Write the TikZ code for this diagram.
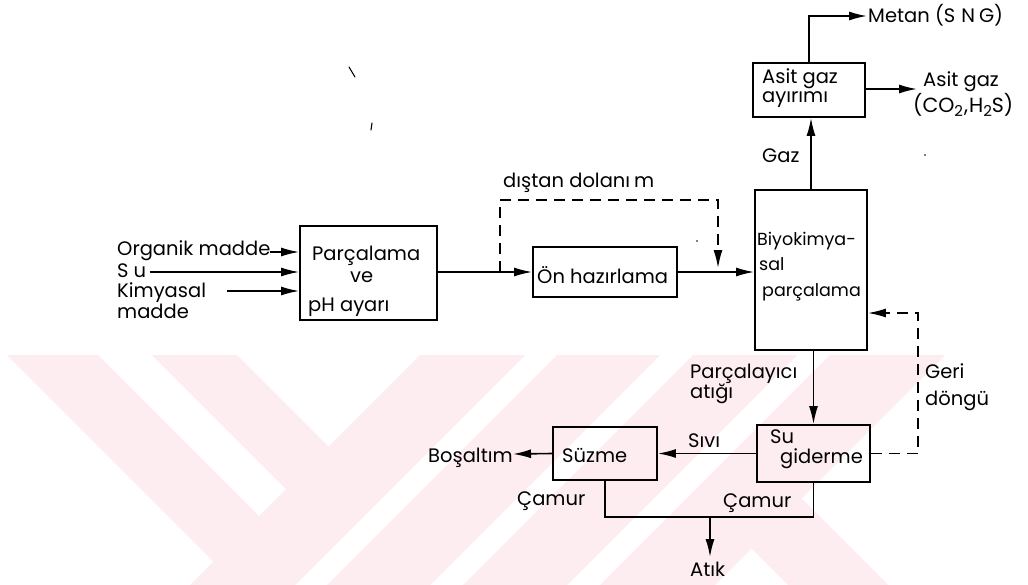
\documentclass[tikz,border=0pt]{standalone}
\usepackage{fontspec}
\setmainfont{Poppins}
\usetikzlibrary{arrows.meta}
\definecolor{wm}{RGB}{253,236,240}
\tikzset{
  box/.style={draw, line width=1.8pt, inner sep=0pt},
  arr/.style={line width=1.6pt, -{Latex[length=18pt,width=9pt]}},
  ln/.style={line width=1.6pt},
  dsh/.style={line width=1.6pt, dash pattern=on 11pt off 7pt},
  lbl/.style={anchor=base west, inner sep=0pt, font=\fontsize{19.5}{21}\selectfont},
  lbls/.style={anchor=base west, inner sep=0pt, font=\fontsize{17.5}{19}\selectfont},
  speck/.style={line width=1.1pt, line cap=round},
}
\begin{document}
\begin{tikzpicture}[x=1pt,y=-1pt]
\useasboundingbox (0,0) rectangle (1028,584);
\fill[white] (0,0) rectangle (1028,584);
% watermark
\begin{scope}
  \clip (0,355) rectangle (1028,584);
  \fill[wm] (-24,324) -- (21.5,278.5) -- (259,516) -- (213.5,561.5) -- cycle;
  \fill[wm] (48.5,251.5) -- (91,209) -- (328.5,446.5) -- (286,489) -- cycle;
  \fill[wm] (425,350) -- (530,350) -- (290,590) -- (185,590) -- cycle;
  \fill[wm] (562,350) -- (665,350) -- (425,590) -- (322,590) -- cycle;
  \fill[wm] (698,350) -- (802,350) -- (562,590) -- (458,590) -- cycle;
  \fill[wm] (835,350) -- (950,350) -- (710,590) -- (595,590) -- cycle;
  \fill[wm] (751.5,548.5) -- (801.5,498.5) -- (901.5,598.5) -- (851.5,648.5) -- cycle;
\end{scope}
% specks
\draw[speck] (349,67) -- (355,77);
\draw[speck] (372,123) -- (371,130);
\fill (697,241) circle (0.9pt);
\fill (925,155) circle (0.9pt);

% boxes
\node[box, minimum width=137pt, minimum height=94pt] (parc) at (368.5,273) {};
\node[box, minimum width=144pt, minimum height=50pt] (onh) at (605,272) {};
\node[box, minimum width=112pt, minimum height=160pt] (biyo) at (811,270) {};
\node[box, minimum width=112pt, minimum height=54pt] (asit) at (809,90) {};
\node[box, minimum width=113pt, minimum height=57pt] (sug) at (813.5,453.5) {};
\node[box, minimum width=104pt, minimum height=53pt] (suz) at (605,453.5) {};

% box texts
\node[lbl] (tparc1) at (312,260) {Parçalama};
\node[lbl] (tparc2) at (350,282) {ve};
\node[lbl] (tparc3) at (308,311) {pH ayarı};
\node[lbl] (tonh) at (537,283) {Ön hazırlama};
\node[lbls] (tbiyo1) at (757,245) {Biyokimya-};
\node[lbls] (tbiyo2) at (759,270) {sal};
\node[lbls] (tbiyo3) at (762,296) {parçalama};
\node[lbl] (tasit1) at (762,83) {Asit gaz};
\node[lbl] (tasit2) at (762,102) {ayırımı};
\node[lbl] (tsug1) at (770,443) {Su};
\node[lbl] (tsug2) at (780,463) {giderme};
\node[lbl] (tsuz) at (562,462) {Süzme};

% free labels
\node[lbl] (organik) at (117,255) {Organik madde};
\node[lbl] (su) at (117,277) {S\kern5pt u};
\node[lbl] (kim1) at (117,297) {Kimyasal};
\node[lbl] (kim2) at (117,318) {madde};
\node[lbl] (distan) at (503,187) {dıştan dolanı\kern4pt m};
\node[lbl] (gaz) at (762,162) {Gaz};
\node[lbl] (metan) at (868,22) {Metan (S\kern6pt N\kern4pt G)};
\node[lbl] (ag1) at (923,86) {Asit gaz};
\node[lbl, font=\fontsize{20.5}{22}\selectfont] (ag2) at (913,112) {(CO\raisebox{-4pt}{\fontsize{15}{15}\selectfont 2}\kern1pt,\kern1pt H\raisebox{-4pt}{\fontsize{15}{15}\selectfont 2}S)};
\node[lbl] (parcat1) at (690,378) {Parçalayıcı};
\node[lbl] (parcat2) at (690,398) {atığı};
\node[lbl] (geri1) at (925,378) {Geri};
\node[lbl] (geri2) at (925,405) {döngü};
\node[lbl] (sivi) at (688,447) {Sıvı};
\node[lbl] (bosal) at (428,462) {Boşaltım};
\node[lbl] (camur1) at (517,505) {Çamur};
\node[lbl] (camur2) at (723,507) {Çamur};
\node[lbl] (atik) at (690,576) {Atık};

% coordinates
\coordinate (om) at (270,252);
\coordinate (suc) at (150,272);
\coordinate (km) at (227,291);
\coordinate (d1) at (500,272);
\coordinate (d2) at (718,268);
\coordinate (mt) at (867,16);
\coordinate (agc) at (917,89);
\coordinate (bo) at (513,454);
\coordinate (gd) at (918,313);
\coordinate (cj) at (710,517);
\coordinate (at) at (710,557);

% connectors
\draw[arr] (om) -- (om -| parc.west);
\draw[arr] (suc) -- (suc -| parc.west);
\draw[arr] (km) -- (km -| parc.west);
\draw[arr] (parc.east |- onh.west) -- (onh.west);
\draw[dsh] (d1) -- (500,200) -- (718,200) -- (718,250);
\draw[arr] (718,250) -- (d2);
\draw[arr] (onh.east) -- (onh.east -| biyo.west);
\draw[arr] (biyo.north) -- (biyo.north |- asit.south);
\draw[arr] (asit.north) |- (mt);
\draw[arr] (asit.east |- agc) -- (agc);
\draw[arr] (biyo.south -| sug.north) -- (sug.north);
\draw[arr] (sug.west) -- (suz.east);
\draw[arr] (suz.west) -- (bo);
\draw[dsh] (sug.east) -| (gd) -- (885,313);
\draw[arr] (885,313) -- (gd -| biyo.east);
\draw[ln] (suz.south) |- (cj) -| (sug.south);
\draw[arr] (cj) -- (at);
\end{tikzpicture}
\end{document}
